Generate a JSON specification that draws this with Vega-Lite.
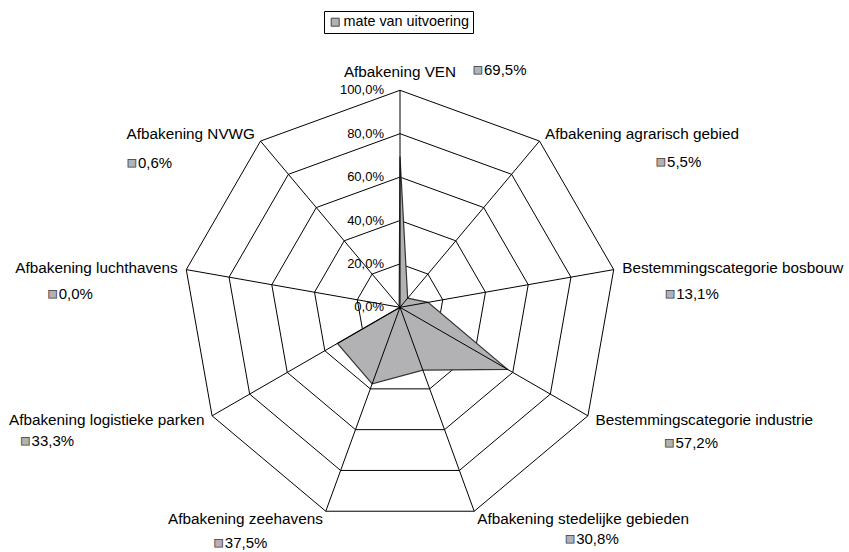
{
  "$schema": "https://vega.github.io/schema/vega-lite/v6.json",
  "width": 849,
  "height": 552,
  "autosize": "none",
  "padding": 0,
  "background": "white",
  "config": {
    "view": {"stroke": null},
    "font": "Liberation Sans",
    "text": {"font": "Liberation Sans", "color": "black"},
    "legend": {
      "orient": "none",
      "legendX": 324,
      "legendY": 11,
      "padding": 4,
      "strokeColor": "black",
      "symbolType": "square",
      "symbolSize": 64,
      "symbolStrokeColor": "#444444",
      "symbolStrokeWidth": 1,
      "labelFont": "Liberation Sans",
      "labelFontSize": 14.4,
      "labelColor": "black",
      "labelOffset": 1
    }
  },
  "datasets": {
    "axes": [
      {"i": 0, "name": "Afbakening VEN", "value": 69.5},
      {"i": 1, "name": "Afbakening agrarisch gebied", "value": 5.5},
      {"i": 2, "name": "Bestemmingscategorie bosbouw", "value": 13.1},
      {"i": 3, "name": "Bestemmingscategorie industrie", "value": 57.2},
      {"i": 4, "name": "Afbakening stedelijke gebieden", "value": 30.8},
      {"i": 5, "name": "Afbakening zeehavens", "value": 37.5},
      {"i": 6, "name": "Afbakening logistieke parken", "value": 33.3},
      {"i": 7, "name": "Afbakening luchthavens", "value": 0.0},
      {"i": 8, "name": "Afbakening NVWG", "value": 0.6}
    ],
    "rings": [
      {"level": 20, "k": [0, 1, 2, 3, 4, 5, 6, 7, 8]},
      {"level": 40, "k": [0, 1, 2, 3, 4, 5, 6, 7, 8]},
      {"level": 60, "k": [0, 1, 2, 3, 4, 5, 6, 7, 8]},
      {"level": 80, "k": [0, 1, 2, 3, 4, 5, 6, 7, 8]},
      {"level": 100, "k": [0, 1, 2, 3, 4, 5, 6, 7, 8]}
    ],
    "ticks": [
      {"level": 0}, {"level": 20}, {"level": 40}, {"level": 60}, {"level": 80}, {"level": 100}
    ]
  },
  "encoding": {
    "x": {"field": "x", "type": "quantitative", "axis": null,
          "scale": {"domain": [-184.33, 206.91], "nice": false, "zero": false}},
    "y": {"field": "y", "type": "quantitative", "axis": null,
          "scale": {"domain": [-112.76, 141.61], "nice": false, "zero": false}}
  },
  "layer": [
    {
      "data": {"name": "rings"},
      "transform": [
        {"flatten": ["k"]},
        {"calculate": "datum.k * 40 * PI / 180", "as": "a"},
        {"calculate": "datum.level * sin(datum.a)", "as": "x"},
        {"calculate": "datum.level * cos(datum.a)", "as": "y"}
      ],
      "mark": {"type": "line", "interpolate": "linear-closed", "color": "black", "strokeWidth": 1},
      "encoding": {
        "detail": {"field": "level", "type": "nominal"},
        "order": {"field": "k", "type": "quantitative"}
      }
    },
    {
      "data": {"name": "axes"},
      "transform": [
        {"calculate": "datum.i * 40 * PI / 180", "as": "a"},
        {"calculate": "datum.value * sin(datum.a)", "as": "x"},
        {"calculate": "datum.value * cos(datum.a)", "as": "y"}
      ],
      "mark": {"type": "line", "interpolate": "linear-closed", "stroke": "#333333", "strokeWidth": 1.2},
      "encoding": {
        "order": {"field": "i", "type": "quantitative"},
        "fill": {"datum": "mate van uitvoering", "type": "nominal",
                 "scale": {"range": ["#b2b2b5"]},
                 "legend": {"title": null}}
      }
    },
    {
      "data": {"name": "axes"},
      "transform": [
        {"calculate": "datum.i * 40 * PI / 180", "as": "a"},
        {"calculate": "0", "as": "x"},
        {"calculate": "0", "as": "y"},
        {"calculate": "100 * sin(datum.a)", "as": "x2"},
        {"calculate": "100 * cos(datum.a)", "as": "y2"}
      ],
      "mark": {"type": "rule", "color": "black", "strokeWidth": 1},
      "encoding": {
        "x2": {"field": "x2"},
        "y2": {"field": "y2"}
      }
    },
    {
      "data": {"name": "ticks"},
      "transform": [
        {"calculate": "0", "as": "x"},
        {"calculate": "datum.level", "as": "y"},
        {"calculate": "replace(format(datum.level, '.1f'), '.', ',') + '%'", "as": "t"}
      ],
      "mark": {"type": "text", "align": "right", "baseline": "middle", "dx": -16, "fontSize": 13},
      "encoding": {"text": {"field": "t"}}
    },
    {
      "data": {"name": "axes"},
      "transform": [
        {"calculate": "datum.i * 40 * PI / 180", "as": "a"},
        {"calculate": "104 * sin(datum.a)", "as": "x"},
        {"calculate": "104 * cos(datum.a)", "as": "y"}
      ],
      "mark": {"type": "text", "baseline": "middle", "fontSize": 15.3,
               "align": {"expr": "datum.i == 0 ? 'center' : (datum.i < 5 ? 'left' : 'right')"},
               "dy": {"expr": "datum.i == 0 ? -10 : 0"}},
      "encoding": {"text": {"field": "name"}}
    },
    {
      "data": {"name": "axes"},
      "transform": [
        {"calculate": "datum.i * 40 * PI / 180", "as": "a"},
        {"calculate": "104 * sin(datum.a)", "as": "x"},
        {"calculate": "104 * cos(datum.a)", "as": "y"}
      ],
      "mark": {"type": "text", "baseline": "middle", "align": "left", "fontSize": 16,
               "text": "■", "fill": "#b2b2b5", "stroke": "#404040", "strokeWidth": 0.8,
               "dx": {"expr": "[73, 111, 43, 69, 88, -109, -184, -130, -128][datum.i]"},
               "dy": {"expr": "[-12, 28, 26, 23, 20, 24, 21, 26, 29][datum.i]"}}
    },
    {
      "data": {"name": "axes"},
      "transform": [
        {"calculate": "datum.i * 40 * PI / 180", "as": "a"},
        {"calculate": "104 * sin(datum.a)", "as": "x"},
        {"calculate": "104 * cos(datum.a)", "as": "y"},
        {"calculate": "replace(format(datum.value, '.1f'), '.', ',') + '%'", "as": "t"}
      ],
      "mark": {"type": "text", "baseline": "middle", "align": "left", "fontSize": 15,
               "dx": {"expr": "[74, 112, 44, 70, 89, -108, -183, -129, -127][datum.i] + 10"},
               "dy": {"expr": "[-12, 28, 26, 23, 20, 24, 21, 26, 29][datum.i]"}},
      "encoding": {"text": {"field": "t"}}
    }
  ]
}
